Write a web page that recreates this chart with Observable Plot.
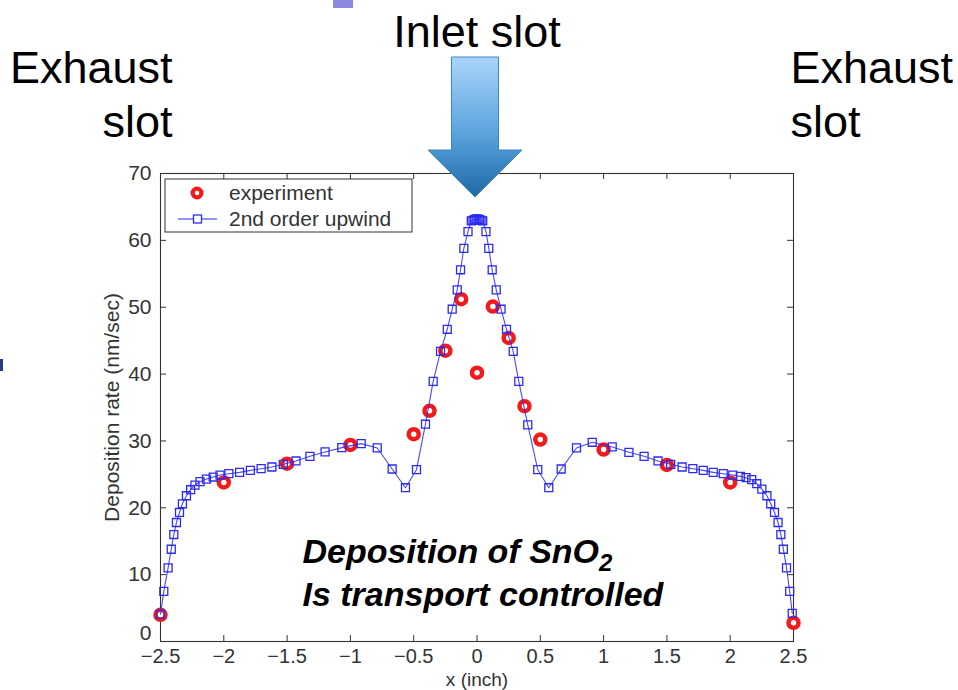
<!DOCTYPE html>
<html>
<head>
<meta charset="utf-8">
<script src="https://cdn.jsdelivr.net/npm/d3@7"></script>
<script src="https://cdn.jsdelivr.net/npm/@observablehq/plot@0.6"></script>
<style>
  html, body { margin: 0; padding: 0; background: #fff; }
  #chart { width: 958px; height: 690px; overflow: hidden; }
</style>
</head>
<body>
<div id="chart"></div>
<script>
// Simulated deposition rate, 2nd order upwind scheme (x in inch, rate in nm/sec)
const simX = [-2.5, -2.474, -2.44, -2.415, -2.395, -2.374, -2.35, -2.327, -2.295, -2.262,
  -2.228, -2.188, -2.137, -2.084, -2.03, -1.96, -1.875, -1.79, -1.705, -1.62,
  -1.53, -1.43, -1.32, -1.2, -1.068, -0.915, -0.788, -0.67, -0.565, -0.478,
  -0.407, -0.346, -0.288, -0.235, -0.196, -0.156, -0.13, -0.104, -0.071,
  -0.045, -0.032, -0.02, -0.007, 0.007, 0.02, 0.032, 0.045,
  0.071, 0.093, 0.12, 0.152, 0.19,
  0.233, 0.286, 0.33, 0.401, 0.48, 0.567, 0.665, 0.786, 0.91, 1.068,
  1.2, 1.32, 1.43, 1.53, 1.62, 1.705, 1.787, 1.866, 1.945, 2.02,
  2.08, 2.125, 2.17, 2.21, 2.25, 2.29, 2.32, 2.35, 2.378, 2.4,
  2.42, 2.445, 2.47, 2.49];
const simY = [4.1, 7.5, 11.0, 13.8, 16.0, 17.8, 19.3, 20.6, 21.8, 22.7,
  23.4, 23.9, 24.3, 24.6, 24.9, 25.1, 25.3, 25.6, 25.85, 26.1,
  26.5, 27.0, 27.7, 28.35, 29.0, 29.6, 28.95, 25.8, 23.0, 25.7,
  32.5, 38.9, 43.4, 46.7, 49.7, 52.6, 55.6, 58.8, 61.3,
  62.9, 63.0, 63.1, 63.2, 63.2, 63.1, 63.0, 62.9,
  61.3, 58.8, 55.6, 52.6, 49.7,
  46.7, 43.4, 38.9, 32.4, 25.7, 23.0, 25.8, 28.95, 29.8, 29.1,
  28.3, 27.7, 27.0, 26.5, 26.1, 25.85, 25.6, 25.3, 25.1, 24.9,
  24.7, 24.5, 24.2, 23.6, 22.8, 21.8, 20.6, 19.3, 17.8, 16.0,
  13.8, 11.0, 7.5, 4.2];

// Measured deposition rate
const expX = [-2.5, -2, -1.5, -1, -0.5, -0.375, -0.25, -0.125, 0, 0.125, 0.25, 0.375, 0.5, 1, 1.5, 2, 2.5];
const expY = [4.0, 23.8, 26.6, 29.4, 31.0, 34.5, 43.5, 51.2, 40.2, 50.1, 45.4, 35.2, 30.2, 28.7, 26.4, 23.8, 2.8];

// Axis ticks and their labels
const xTicks = [-2.5, -2, -1.5, -1, -0.5, 0, 0.5, 1, 1.5, 2, 2.5];
const xTickLabels = ["\u22122.5", "\u22122", "\u22121.5", "\u22121", "\u22120.5", "0", "0.5", "1", "1.5", "2", "2.5"];
const yTicks = [0, 10, 20, 30, 40, 50, 60, 70];
const yTickLabels = ["0", "10", "20", "30", "40", "50", "60", "70"];

const legendLabels = ["experiment", "2nd order upwind"];
const xLabel = "x (inch)";
const yLabel = "Deposition rate (nm/sec)";
const noteLines = ["Deposition of SnO2", "Is transport controlled"];

const simulation = simX.map((x, i) => ({x, y: simY[i]}));
const experiment = expX.map((x, i) => ({x, y: expY[i]}));
const yTickRows = yTicks.map((y, i) => ({y, label: yTickLabels[i]}));

const W = 958, H = 690, mL = 160, mR = 165, mT = 173, mB = 49;
const fw = W - mL - mR, fh = H - mT - mB;
const font = "'Liberation Sans', Arial, Helvetica, sans-serif";
const ink = "#333";
const blue = "#2b2bf2";
const red = "#f21a1a";
const big = {fontSize: 45, fill: "#000", lineAnchor: "middle"};
const note = {frameAnchor: "bottom-left", textAnchor: "start", lineAnchor: "middle", dx: 142,
  fontSize: 34, fontWeight: "bold", fontStyle: "italic", fill: "#000"};

const plot = Plot.plot({
  width: W, height: H,
  marginLeft: mL, marginRight: mR, marginTop: mT, marginBottom: mB,
  style: {fontFamily: font, background: "white", overflow: "visible"},
  x: {domain: [-2.5, 2.5], axis: null},
  y: {domain: [0, 70], axis: null},
  marks: [
    // box with inward ticks on all four sides
    Plot.frame({stroke: ink, strokeWidth: 1.1}),
    Plot.ruleX(xTicks, {x: d => d, insetTop: fh - 6, stroke: ink}),
    Plot.ruleX(xTicks, {x: d => d, insetBottom: fh - 6, stroke: ink}),
    Plot.ruleY(yTicks, {y: d => d, insetRight: fw - 6, stroke: ink}),
    Plot.ruleY(yTicks, {y: d => d, insetLeft: fw - 6, stroke: ink}),
    // tick labels (the zero label sits a little higher, clear of the x labels)
    Plot.text(xTicks, {x: d => d, frameAnchor: "bottom", lineAnchor: "top", dy: 7,
      text: (d, i) => xTickLabels[i], fontSize: 20, fill: ink}),
    Plot.text(yTickRows.filter(d => d.y > 0), {y: "y", text: "label", frameAnchor: "left", textAnchor: "end",
      lineAnchor: "middle", dx: -9, fontSize: 21, fill: ink}),
    Plot.text(yTickRows.filter(d => d.y === 0), {y: "y", text: "label", frameAnchor: "left", textAnchor: "end",
      lineAnchor: "middle", dx: -9, dy: -8, fontSize: 21, fill: ink}),
    // axis titles
    Plot.text([xLabel], {text: d => d, frameAnchor: "bottom", lineAnchor: "top", dy: 31, fontSize: 19, fill: ink}),
    Plot.text([yLabel], {text: d => d, frameAnchor: "left", textAnchor: "middle", lineAnchor: "middle",
      rotate: -90, dx: -48, fontSize: 21, fill: ink}),
    // measurements
    Plot.dot(experiment, {x: "x", y: "y", r: 5, stroke: red, strokeWidth: 4.5, fill: "#fff"}),
    // simulation
    Plot.line(simulation, {x: "x", y: "y", stroke: blue, strokeWidth: 1.1, strokeOpacity: 0.85}),
    Plot.dot(simulation, {x: "x", y: "y", symbol: "square", r: 4.5, stroke: blue, strokeWidth: 1.3, fill: "none"}),
    // slot annotations above the plot
    Plot.text(["Inlet slot"], {...big, text: d => d, frameAnchor: "top", dy: -141}),
    Plot.text(["Exhaust"], {...big, text: d => d, frameAnchor: "top-left", textAnchor: "end", dx: 12, dy: -105}),
    Plot.text(["slot"], {...big, text: d => d, frameAnchor: "top-left", textAnchor: "end", dx: 12, dy: -51}),
    Plot.text(["Exhaust"], {...big, text: d => d, frameAnchor: "top-right", textAnchor: "start", dx: -3, dy: -105}),
    Plot.text(["slot"], {...big, text: d => d, frameAnchor: "top-right", textAnchor: "start", dx: -3, dy: -51}),
    // note inside the plot
    Plot.text([noteLines[0]], {...note, text: d => d, dy: -89}),
    Plot.text([noteLines[1]], {...note, text: d => d, dy: -46})
  ]
});

const svg = d3.select(plot);
const xs = plot.scale("x");

// subscript in SnO2
svg.selectAll("text").filter(function () { return this.textContent === noteLines[0]; })
  .each(function () {
    const t = d3.select(this);
    t.text("Deposition of SnO");
    t.append("tspan").attr("dy", "0.3em").attr("font-size", 24).text("2");
  });

// inlet arrow with a vertical blue gradient
const defs = svg.append("defs");
const grad = defs.append("linearGradient").attr("id", "inletGrad")
  .attr("x1", 0).attr("y1", 0).attr("x2", 0).attr("y2", 1);
grad.append("stop").attr("offset", "0").attr("stop-color", "#a9d5fa");
grad.append("stop").attr("offset", "0.55").attr("stop-color", "#5aa3dd");
grad.append("stop").attr("offset", "1").attr("stop-color", "#1c69a6");
const arrowX = xs.apply(0) - 1.5;
const shaftTop = mT - 116, headBase = mT - 23, headTip = mT + 24;
svg.append("path")
  .attr("d", `M${arrowX - 23.5},${shaftTop}H${arrowX + 23.5}V${headBase}H${arrowX + 47}L${arrowX},${headTip}L${arrowX - 47},${headBase}H${arrowX - 23.5}Z`)
  .attr("fill", "url(#inletGrad)")
  .attr("stroke", "#3d87c4").attr("stroke-width", 1);

// small slide remnants at the edges
svg.append("rect").attr("x", 333).attr("y", 0).attr("width", 20).attr("height", 8).attr("fill", "#8a8ae0");
svg.append("rect").attr("x", 0).attr("y", 359).attr("width", 3).attr("height", 12).attr("fill", "#2a3a8a");

// legend box
const lg = svg.append("g").attr("font-family", font).attr("font-size", 21).attr("fill", ink)
  .attr("text-anchor", "start");
const lx = mL + 5, ly = mT + 6;
lg.append("rect").attr("x", lx).attr("y", ly).attr("width", 247).attr("height", 53)
  .attr("fill", "#fff").attr("stroke", ink).attr("stroke-width", 1);
lg.append("circle").attr("cx", lx + 32).attr("cy", ly + 14).attr("r", 4.4)
  .attr("fill", "#fff").attr("stroke", red).attr("stroke-width", 4.2);
lg.append("text").attr("x", lx + 64).attr("y", ly + 14).attr("dy", "0.35em").text(legendLabels[0]);
lg.append("line").attr("x1", lx + 13).attr("x2", lx + 52).attr("y1", ly + 40).attr("y2", ly + 40)
  .attr("stroke", blue).attr("stroke-width", 1.1);
lg.append("rect").attr("x", lx + 28.5).attr("y", ly + 36).attr("width", 8).attr("height", 8)
  .attr("fill", "#fff").attr("stroke", blue).attr("stroke-width", 1.3);
lg.append("text").attr("x", lx + 64).attr("y", ly + 40).attr("dy", "0.35em").text(legendLabels[1]);

document.getElementById("chart").appendChild(plot);
</script>
</body>
</html>
